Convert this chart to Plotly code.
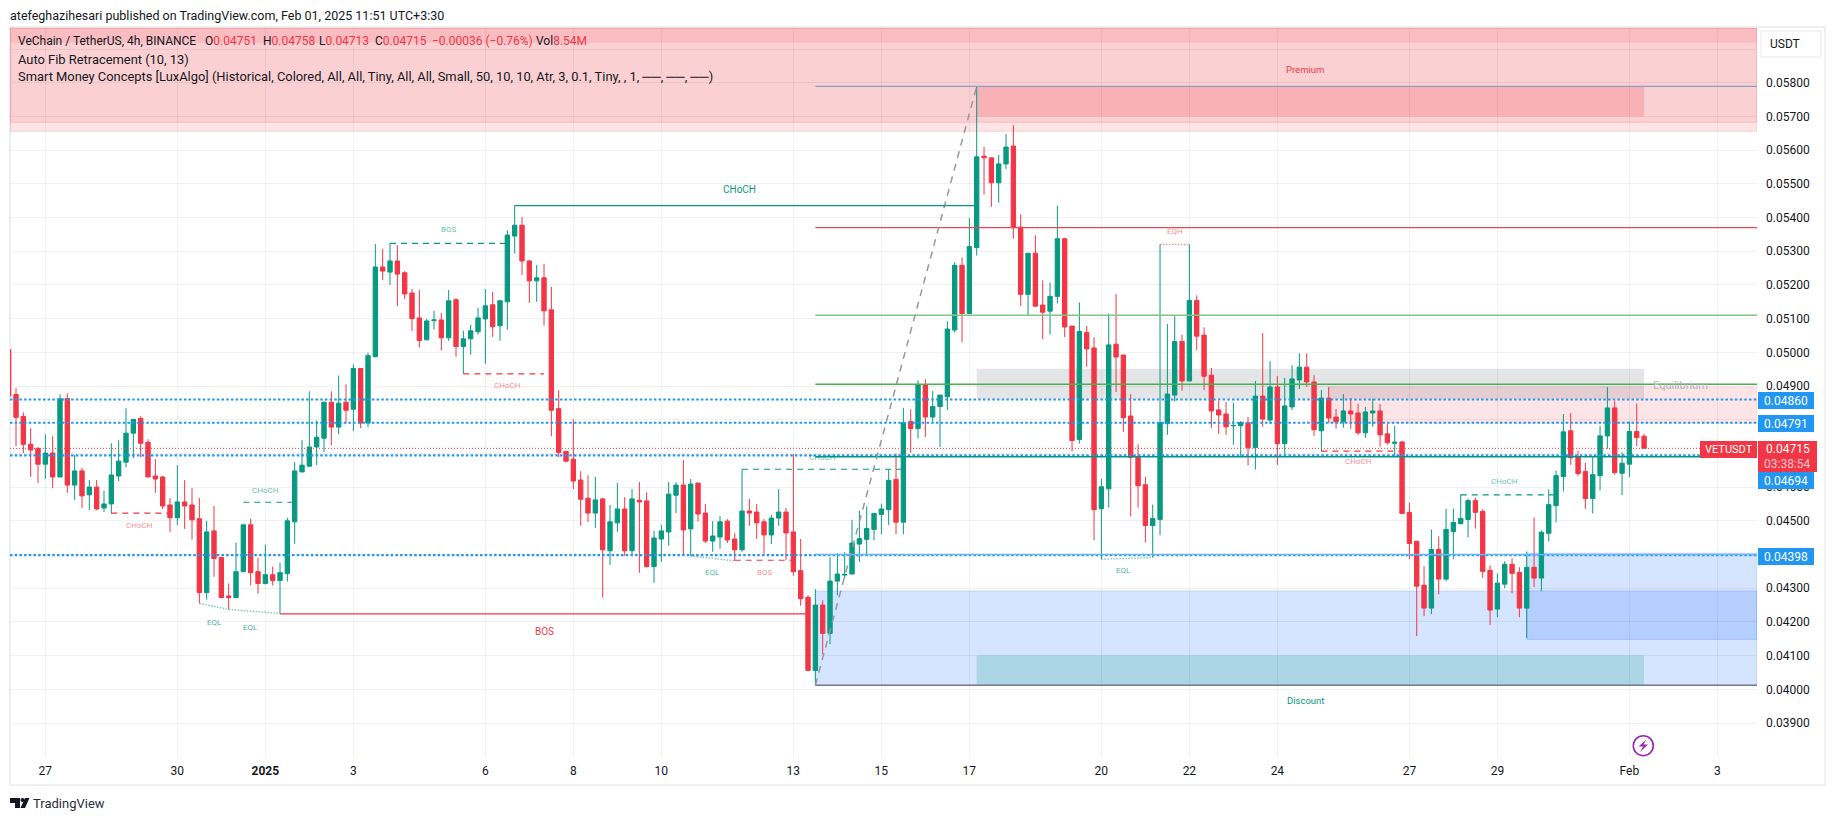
import plotly.graph_objects as go

# candles, first bar is index -5, prices in 1e-5 USDT
opens = [5008, 4875, 4810, 4727, 4715, 4668, 4701, 4630, 4863, 4606, 4648, 4577, 4600, 4538, 4550, 4633, 4674, 4760, 4804, 4733,
         4633, 4630, 4547, 4509, 4556, 4547, 4506, 4287, 4470, 4391, 4277, 4272, 4349, 4488, 4349, 4314, 4340, 4323, 4343, 4497,
         4645, 4662, 4719, 4745, 4852, 4778, 4852, 4831, 4952, 4790, 4987, 5253, 5238, 5271, 5236, 5176, 5102, 5037, 5094, 5096,
         5043, 5156, 5017, 5040, 5061, 5099, 5141, 5079, 5150, 5345, 5377, 5271, 5212, 5221, 5126, 4833, 4706, 4683, 4621, 4567,
         4523, 4565, 4411, 4494, 4535, 4411, 4561, 4559, 4364, 4446, 4467, 4576, 4606, 4476, 4612, 4523, 4440, 4452, 4499, 4446,
         4414, 4529, 4526, 4497, 4458, 4508, 4526, 4467, 4352, 4273, 4056, 4250, 4166, 4321, 4339, 4342, 4431, 4445, 4474, 4519,
         4533, 4623, 4496, 4795, 4774, 4904, 4808, 4839, 4868, 5066, 5258, 5115, 5311, 5582, 5577, 5503, 5559, 5612, 5371, 5172,
         5294, 5140, 5122, 5166, 5337, 5078, 4741, 5059, 5013, 4536, 4595, 5024, 4992, 4811, 4690, 4607, 4486, 4504, 4788, 4873,
         5032, 4915, 5154, 5051, 4932, 4829, 4817, 4782, 4782, 4791, 4717, 4870, 4799, 4897, 4729, 4838, 4918, 4956, 4912, 4767,
         4864, 4808, 4794, 4826, 4820, 4761, 4820, 4826, 4758, 4730, 4734, 4525, 4439, 4309, 4241, 4415, 4327, 4468, 4492, 4504,
         4560, 4528, 4353, 4238, 4312, 4371, 4347, 4241, 4362, 4330, 4463, 4545, 4631, 4767, 4690, 4646, 4566, 4634, 4752, 4835,
         4641, 4668, 4765, 4751]
highs = [5020, 4893, 4822, 4775, 4718, 4757, 4751, 4875, 4878, 4695, 4657, 4621, 4621, 4589, 4730, 4739, 4834, 4801, 4810, 4742,
         4683, 4633, 4568, 4665, 4621, 4597, 4568, 4500, 4544, 4394, 4314, 4435, 4488, 4506, 4391, 4429, 4364, 4376, 4509, 4674,
         4739, 4884, 4798, 4852, 4884, 4931, 4905, 4964, 4952, 4999, 5321, 5307, 5324, 5318, 5241, 5188, 5185, 5099, 5123, 5117,
         5185, 5161, 5064, 5082, 5132, 5188, 5179, 5153, 5362, 5436, 5401, 5274, 5259, 5262, 5194, 4887, 4706, 4801, 4647, 4635,
         4630, 4568, 4547, 4612, 4570, 4594, 4615, 4585, 4470, 4488, 4615, 4615, 4680, 4624, 4612, 4550, 4499, 4514, 4505, 4464,
         4653, 4565, 4550, 4505, 4517, 4594, 4538, 4698, 4446, 4279, 4297, 4264, 4392, 4404, 4407, 4503, 4530, 4543, 4523, 4551,
         4653, 4699, 4835, 4831, 4917, 4920, 4885, 4873, 5092, 5267, 5281, 5398, 5789, 5610, 5577, 5586, 5648, 5674, 5409, 5294,
         5347, 5213, 5207, 5435, 5340, 5078, 5148, 5078, 5045, 4625, 5115, 5172, 4992, 4876, 4727, 4631, 4548, 5320, 5084, 5107,
         5052, 5320, 5169, 5074, 4953, 4856, 4853, 4850, 4796, 4808, 4915, 5057, 4974, 4929, 4924, 4962, 4997, 4997, 4932, 4888,
         4897, 4832, 4876, 4864, 4847, 4838, 4862, 4847, 4788, 4782, 4737, 4554, 4439, 4365, 4474, 4454, 4536, 4536, 4578, 4566,
         4569, 4534, 4368, 4344, 4380, 4389, 4362, 4409, 4510, 4471, 4593, 4649, 4817, 4820, 4708, 4672, 4693, 4782, 4897, 4856,
         4703, 4795, 4848, 4758]
lows = [4860, 4722, 4701, 4630, 4612, 4624, 4597, 4630, 4583, 4562, 4538, 4532, 4532, 4526, 4521, 4618, 4659, 4686, 4689, 4630,
        4583, 4535, 4467, 4488, 4476, 4444, 4255, 4266, 4334, 4272, 4237, 4272, 4349, 4308, 4284, 4311, 4308, 4225, 4320, 4432,
        4645, 4662, 4665, 4704, 4724, 4757, 4790, 4766, 4775, 4778, 4985, 5214, 5200, 5137, 5158, 5063, 5014, 5037, 5067, 5005,
        5034, 4987, 4936, 4993, 5052, 4966, 5046, 5034, 5067, 5294, 5229, 5147, 5150, 5079, 4751, 4689, 4674, 4594, 4485, 4497,
        4479, 4272, 4369, 4467, 4396, 4399, 4346, 4361, 4316, 4378, 4426, 4523, 4399, 4396, 4497, 4434, 4408, 4417, 4434, 4381,
        4408, 4485, 4446, 4402, 4431, 4485, 4384, 4337, 4248, 4056, 4012, 4104, 4134, 4279, 4330, 4342, 4378, 4399, 4442, 4460,
        4487, 4460, 4460, 4702, 4744, 4749, 4794, 4719, 4829, 5059, 5030, 5115, 5287, 5468, 5432, 5444, 5544, 5337, 5137, 5110,
        5137, 5039, 5053, 5145, 5045, 4706, 4729, 4957, 4442, 4386, 4539, 4882, 4764, 4513, 4539, 4436, 4391, 4457, 4755, 4854,
        4886, 4915, 5006, 4888, 4776, 4758, 4755, 4726, 4690, 4664, 4652, 4779, 4788, 4666, 4696, 4829, 4891, 4897, 4752, 4705,
        4791, 4773, 4776, 4773, 4755, 4746, 4779, 4720, 4726, 4690, 4519, 4386, 4158, 4217, 4223, 4282, 4321, 4386, 4489, 4451,
        4477, 4330, 4191, 4214, 4300, 4285, 4214, 4152, 4303, 4291, 4439, 4495, 4587, 4666, 4634, 4536, 4522, 4590, 4714, 4637,
        4576, 4629, 4721, 4713]
closes = [4870, 4807, 4727, 4710, 4668, 4701, 4630, 4862, 4606, 4648, 4574, 4600, 4535, 4550, 4636, 4677, 4760, 4801, 4730, 4630,
          4624, 4544, 4509, 4556, 4544, 4503, 4287, 4467, 4388, 4272, 4272, 4349, 4488, 4346, 4314, 4340, 4323, 4346, 4500, 4648,
          4665, 4719, 4748, 4852, 4778, 4849, 4828, 4952, 4790, 4990, 5253, 5241, 5271, 5232, 5173, 5100, 5035, 5093, 5096, 5043,
          5153, 5017, 5040, 5064, 5102, 5138, 5076, 5153, 5348, 5377, 5271, 5212, 5221, 5123, 4828, 4703, 4677, 4618, 4564, 4523,
          4562, 4414, 4497, 4535, 4411, 4565, 4556, 4364, 4449, 4470, 4579, 4606, 4473, 4609, 4520, 4440, 4455, 4497, 4443, 4414,
          4529, 4523, 4494, 4458, 4508, 4526, 4464, 4349, 4269, 4056, 4250, 4166, 4321, 4342, 4341, 4434, 4447, 4477, 4522, 4535,
          4620, 4496, 4791, 4774, 4904, 4808, 4839, 4873, 5069, 5258, 5115, 5314, 5580, 5577, 5503, 5559, 5609, 5371, 5172, 5294,
          5137, 5119, 5166, 5337, 5075, 4738, 5062, 5010, 4533, 4601, 5022, 4986, 4806, 4688, 4604, 4486, 4507, 4791, 4876, 5032,
          4915, 5154, 5048, 4929, 4826, 4814, 4779, 4783, 4791, 4717, 4870, 4802, 4897, 4729, 4841, 4921, 4956, 4912, 4770, 4864,
          4805, 4794, 4826, 4817, 4761, 4823, 4826, 4755, 4732, 4733, 4522, 4433, 4306, 4241, 4415, 4327, 4474, 4495, 4507, 4560,
          4525, 4350, 4235, 4315, 4371, 4344, 4241, 4362, 4330, 4466, 4548, 4634, 4764, 4687, 4640, 4566, 4637, 4752, 4835, 4643,
          4671, 4765, 4747, 4715]
bars = list(range(-5, 219))

# time axis
day_bars = [0, 18, 30, 42, 60, 72, 84, 102, 114, 126, 144, 156, 168, 186, 198, 216, 228]
day_labels = ["27", "30", "<b>2025</b>", "3", "6", "8", "10", "13", "15", "17", "20", "22", "24", "27", "29", "Feb", "3"]

# price axis, a few labels are hidden behind the tags
price_ticks = [0.039, 0.040, 0.041, 0.042, 0.043, 0.044, 0.045, 0.046, 0.047, 0.048, 0.049, 0.050,
               0.051, 0.052, 0.053, 0.054, 0.055, 0.056, 0.057, 0.058, 0.059]
price_labels = ["0.03900", "0.04000", "0.04100", "0.04200", "0.04300", "", "0.04500", "0.04600", "", "", "0.04900", "0.05000",
                "0.05100", "0.05200", "0.05300", "0.05400", "0.05500", "0.05600", "0.05700", "0.05800", ""]

# horizontal levels
blue_levels = [0.04860, 0.04791, 0.04694, 0.04398]
last_price = 0.04715
fib_levels = [0.05789, 0.05370, 0.05110, 0.04905, 0.04690, 0.04400, 0.04012]
fib_colors = ["#8f9dcb", "#f0464f", "#81c784", "#4caf50", "#009688", "#64b5f6", "#787b86"]

# (first bar, last bar, price, kind)
structure = [
    (64, 127, 0.05435, "teal"),
    (32, 104, 0.04224, "red"),
    (47, 63, 0.05323, "teal dash"),
    (57, 68, 0.04936, "red dash"),
    (9, 17, 0.04523, "red dash"),
    (27, 34, 0.04555, "teal dash"),
    (94, 102, 0.04383, "red dash"),
    (95, 117, 0.04653, "teal dash"),
    (174, 185, 0.04707, "red dash"),
    (193, 206, 0.04577, "teal dash"),
]
# (bar, price) pairs joined by thin dotted lines
eql_paths = [[(21, 0.04255), (25, 0.04237), (32, 0.04225)],
             [(88, 0.04396), (94, 0.04381)],
             [(144, 0.04386), (151, 0.04391)]]
eqh_path = [(152, 0.05320), (156, 0.05320)]

# (text, bar, price, colour, size)
labels = [
    ("CHoCH", 94.7, 0.05482, "#089981", 10),
    ("BOS", 68, 0.04173, "#f23645", 10),
    ("BOS", 55, 0.05363, "rgba(8,153,129,.65)", 8),
    ("CHoCH", 12.9, 0.04487, "rgba(242,54,69,.6)", 8),
    ("CHoCH", 30, 0.04591, "rgba(8,153,129,.65)", 8),
    ("EQL", 23, 0.04199, "rgba(8,153,129,.75)", 8),
    ("EQL", 28, 0.04183, "rgba(8,153,129,.75)", 8),
    ("CHoCH", 63, 0.04902, "rgba(242,54,69,.6)", 8),
    ("EQL", 91, 0.04346, "rgba(8,153,129,.75)", 8),
    ("BOS", 98, 0.04347, "rgba(242,54,69,.6)", 8),
    ("CHoCH", 106, 0.04688, "rgba(8,153,129,.65)", 8),
    ("EQH", 154, 0.05357, "rgba(242,54,69,.6)", 8),
    ("EQL", 147, 0.04352, "rgba(8,153,129,.75)", 8),
    ("CHoCH", 179, 0.04677, "rgba(242,54,69,.6)", 8),
    ("CHoCH", 199, 0.04617, "rgba(8,153,129,.65)", 8),
    ("Premium", 171.8, 0.05838, "#f23645", 9.5),
    ("Discount", 171.9, 0.03968, "#089981", 9.5),
    ("Equilibrium", 223, 0.04901, "#b4b5ba", 11),
]

# price range of the plot and its pixel box on the page
y_low, y_high = 0.037991, 0.059653
x_low, x_high = -4.818, 233.4
FONT = "Roboto, sans-serif"
RED = "#f23645"
GREEN = "#089981"
BLUE = "#2196f3"
GRID = "rgba(42,46,57,.065)"


def px(x):
    return (x - 10) / 1747


def py(y):
    return (757 - y) / 730


fig = go.Figure(go.Candlestick(
    x=bars,
    open=[v * 1e-5 for v in opens],
    high=[v * 1e-5 for v in highs],
    low=[v * 1e-5 for v in lows],
    close=[v * 1e-5 for v in closes],
    increasing=dict(line=dict(color=GREEN, width=1), fillcolor=GREEN),
    decreasing=dict(line=dict(color=RED, width=1), fillcolor=RED),
    whiskerwidth=0,
    hoverinfo="skip",
))

shapes = []


def box(x0, x1, p0, p1, fill, edge=None):
    shapes.append(dict(type="rect", xref="x", yref="y", x0=x0, x1=x1, y0=p0, y1=p1, fillcolor=fill,
                       line=dict(color=edge or "rgba(0,0,0,0)", width=1), layer="below"))


def level(x0, x1, p0, p1, color, width=1, dash="solid"):
    shapes.append(dict(type="line", xref="x", yref="y", x0=x0, x1=x1, y0=p0, y1=p1,
                       line=dict(color=color, width=width, dash=dash), layer="above"))


# premium zone, three stacked layers
box(x_low, x_high, 0.056558, 0.059614, "rgba(242,54,69,.13)", "rgba(242,54,69,.18)")
box(x_low, x_high, 0.056825, 0.059614, "rgba(242,54,69,.12)", "rgba(242,54,69,.18)")
box(x_low, x_high, 0.059187, 0.059614, "rgba(242,54,69,.13)")
box(127, 218, 0.05700, 0.05787, "rgba(242,54,69,.2)")
# equilibrium and supply
box(127, 218, 0.04862, 0.04951, "rgba(120,123,134,.2)")
box(175, x_high, 0.04790, 0.04897, "rgba(242,54,69,.13)", "rgba(242,54,69,.12)")
# discount zone
box(105, x_high, 0.04012, 0.04292, "rgba(33,110,255,.19)", "rgba(33,110,255,.2)")
box(202, x_high, 0.04148, 0.04404, "rgba(33,110,255,.19)", "rgba(33,110,255,.2)")
box(127, 218, 0.04012, 0.04101, "rgba(8,153,129,.2)")

# frame around chart and axes
shapes.append(dict(type="rect", xref="paper", yref="paper", x0=px(10), x1=px(1825), y0=py(785), y1=py(27),
                   line=dict(color="#eeeff1", width=2), layer="below"))

for p in blue_levels:
    level(x_low, x_high, p, p, BLUE, 2.2, "2.5px,2.2px")
level(x_low, x_high, last_price, last_price, RED, 1, "1px,2px")
for p, c in zip(fib_levels, fib_colors):
    level(105, x_high, p, p, c, 1.4)
# fib trend line
level(105, 127, fib_levels[-1], fib_levels[0], "#9598a1", 1.5, "7px,6px")

for x0, x1, p, kind in structure:
    color = GREEN if kind.startswith("teal") else RED
    level(x0, x1, p, p, color, 1.2, "6px,5px" if kind.endswith("dash") else "solid")
for path in eql_paths:
    for (x0, p0), (x1, p1) in zip(path, path[1:]):
        level(x0, x1, p0, p1, "rgba(8,153,129,.55)", 1.4, "1.5px,1.5px")
level(eqh_path[0][0], eqh_path[1][0], eqh_path[0][1], eqh_path[1][1], "rgba(242,54,69,.55)", 1.4, "1.5px,1.5px")

# lightning badge
shapes.append(dict(type="circle", xref="paper", yref="paper", x0=px(1633.3), x1=px(1653.3), y0=py(755.7), y1=py(735.7),
                   line=dict(color="#9c27b0", width=1.6), layer="above"))
bolt = [(1646.5, 739.5), (1638.5, 746.5), (1643, 746.5), (1640, 752), (1648, 744.5), (1643.5, 744.5)]
shapes.append(dict(type="path", xref="paper", yref="paper", fillcolor="#9c27b0", line=dict(width=0), layer="above",
                   path="M" + " L".join(f"{px(a):.5f},{py(b):.5f}" for a, b in bolt) + " Z"))

# TradingView mark
logo_t = [(10, 798), (20, 798), (20, 808), (15, 808), (15, 803), (10, 803)]
logo_s = [(25, 798), (29.5, 798), (25, 808), (20.5, 808)]
for poly in (logo_t, logo_s):
    shapes.append(dict(type="path", xref="paper", yref="paper", fillcolor="#131722", line=dict(width=0),
                       path="M" + " L".join(f"{px(a):.5f},{py(b):.5f}" for a, b in poly) + " Z"))
shapes.append(dict(type="circle", xref="paper", yref="paper", fillcolor="#131722", line=dict(width=0),
                   x0=px(20.5), x1=px(24.5), y0=py(802), y1=py(798)))

annotations = []
for text, b, p, color, size in labels:
    annotations.append(dict(x=b, y=p, xref="x", yref="y", text=text, showarrow=False,
                            font=dict(family=FONT, size=size, color=color)))


def page_text(x, y, text, size=12, color="#131722", anchor="left", **kw):
    annotations.append(dict(x=px(x), y=py(y), xref="paper", yref="paper", text=text, showarrow=False,
                            xanchor=anchor, yanchor="middle", borderpad=0, borderwidth=0,
                            font=dict(family=FONT, size=size, color=color), **kw))


r = lambda s: f'<span style="color:{RED}">{s}</span>'
page_text(10, 15, "atefeghazihesari published on TradingView.com, Feb 01, 2025 11:51 UTC+3:30", 12.5)
page_text(18, 41, "VeChain / TetherUS, 4h, BINANCE", 12)
page_text(205, 41, f"O{r('0.04751')}", 12)
page_text(263, 41, f"H{r('0.04758')}", 12)
page_text(319, 41, f"L{r('0.04713')}", 12)
page_text(375, 41, f"C{r('0.04715')}", 12)
page_text(432, 41, r("−0.00036 (−0.76%)"), 12)
page_text(536, 41, f"Vol{r('8.54M')}", 12)
page_text(18, 59, "Auto Fib Retracement (10, 13)", 12.9)
page_text(18, 76, "Smart Money Concepts [LuxAlgo] (Historical, Colored, All, All, Tiny, All, All, Small, 50, 10, 10, Atr, 3, 0.1, "
                  "Tiny, , 1, ──, ──, ──)", 12.9)
page_text(33, 803.5, "TradingView", 13, "#2a2e39")


def tag(x0, x1, y0, y1, text, fill, size=12, color="#ffffff"):
    shapes.append(dict(type="rect", xref="paper", yref="paper", x0=px(x0), x1=px(x1), y0=py(y1), y1=py(y0),
                       fillcolor=fill, line=dict(width=0), layer="above"))
    page_text((x0 + x1) / 2, (y0 + y1) / 2, text, size, color, "center")


tag(1758, 1814, 392, 409, "0.04860", BLUE)
tag(1758, 1814, 415, 432, "0.04791", BLUE)
tag(1758, 1814, 472, 489, "0.04694", BLUE)
tag(1758, 1814, 548, 565, "0.04398", BLUE)
tag(1758, 1817, 441, 472, "0.04715", RED)
annotations[-1]["y"] = py(449)
page_text(1787.5, 464, "03:38:54", 12, "#fbc5ca", "center")
tag(1700, 1757, 441, 458, "VETUSDT", RED, 11)

# USDT button
shapes.append(dict(type="rect", xref="paper", yref="paper", x0=px(1761), x1=px(1821), y0=py(57), y1=py(31),
                   fillcolor="white", line=dict(color="#f0f1f3", width=1.5)))
page_text(1770, 44.5, "USDT", 12)

fig.update_layout(
    width=1819,
    height=805,
    margin=dict(l=2, r=70, t=19, b=56, pad=0),
    paper_bgcolor="white",
    plot_bgcolor="white",
    showlegend=False,
    boxgap=0.15,
    shapes=shapes,
    annotations=annotations,
    xaxis=dict(range=[x_low, x_high], tickmode="array", tickvals=day_bars, ticktext=day_labels,
               rangeslider=dict(visible=False), showgrid=True, gridcolor=GRID, zeroline=False,
               showline=False, ticks="", ticklabelstandoff=5, tickfont=dict(family=FONT, size=12, color="#131722")),
    yaxis=dict(range=[y_low, y_high], side="right", tickmode="array", tickvals=price_ticks, ticktext=price_labels,
               showgrid=True, gridcolor=GRID, zeroline=False, showline=False, ticks="", ticklabelstandoff=8,
               tickfont=dict(family=FONT, size=12, color="#131722")),
)

fig.write_html("out.html")
